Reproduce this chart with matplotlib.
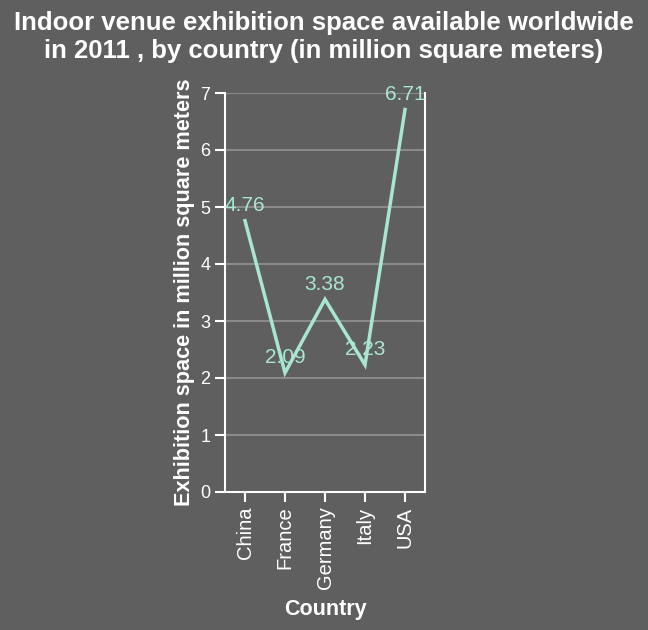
import matplotlib.pyplot as plt

countries = ["China", "France", "Germany", "Italy", "USA"]
space = [4.76, 2.09, 3.38, 2.23, 6.71]
yticks = [0, 1, 2, 3, 4, 5, 6, 7]

bg = "#5f5f5f"
line_col = "#a8e6cf"

plt.rcParams["font.family"] = ["Liberation Sans", "DejaVu Sans"]

fig = plt.figure(figsize=(6.48, 6.30), dpi=100, facecolor=bg)
ax = fig.add_axes([225 / 648, 1 - 492 / 630, 200 / 648, 399 / 630])
ax.set_facecolor(bg)

x = list(range(len(countries)))
ax.plot(x, space, color=line_col, lw=2.5, solid_joinstyle="miter")
for xi, v in zip(x, space):
    ax.annotate(f"{v:.2f}", (xi, v), xytext=(0, 4), textcoords="offset points",
                ha="center", va="bottom", color=line_col, fontsize=15)

ax.set_xlim(-0.5, 4.5)
ax.set_ylim(0, 7)
ax.set_yticks(yticks)
ax.set_xticks(x)
ax.set_xticklabels(countries, rotation=90)
ax.grid(axis="y", color="#8a8a8a", lw=1.5)
ax.set_axisbelow(True)

for s in ["left", "bottom", "right"]:
    ax.spines[s].set_color("white")
    ax.spines[s].set_linewidth(1.5)
ax.spines["top"].set_visible(False)
ax.tick_params(colors="white", labelsize=13, width=1.5, length=7)
ax.tick_params(axis="x", labelsize=14.5)

ax.set_xlabel("Country", color="white", fontsize=15.5, fontweight="bold", labelpad=7)
ax.set_ylabel("Exhibition space in million square meters", color="white",
              fontsize=15.6, fontweight="bold", labelpad=4)

fig.text(0.5, 0.983, "Indoor venue exhibition space available worldwide\nin 2011 , by country (in million square meters)",
         ha="center", va="top", color="white", fontsize=18.5, fontweight="bold", linespacing=1.2)

fig.savefig("out.png", dpi=100, facecolor=bg)
